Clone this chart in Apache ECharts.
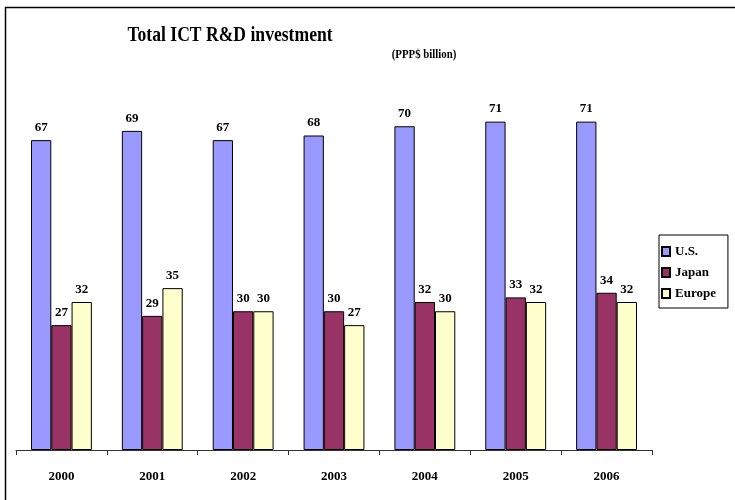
<!DOCTYPE html>
<html>
<head>
<meta charset="utf-8">
<script src="https://cdn.jsdelivr.net/npm/echarts@6/dist/echarts.min.js"></script>
<style>
  html, body { margin: 0; padding: 0; background: #fff; }
  #chart { width: 735px; height: 500px; }
</style>
</head>
<body>
<div id="chart"></div>
<script>
// data
const years = ['2000', '2001', '2002', '2003', '2004', '2005', '2006']
const usValues = [67, 69, 67, 68, 70, 71, 71]
const japanValues = [27, 29, 30, 30, 32, 33, 34]
const europeValues = [32, 35, 30, 27, 30, 32, 32]

const serif = '"Liberation Serif", "Times New Roman", serif'

const labelStyle = {
  show: true,
  position: 'top',
  distance: 6,
  color: '#000',
  fontFamily: serif,
  fontWeight: 'bold',
  fontSize: 13
}

const makeSeries = (name, data, color) => ({
  name: name,
  type: 'bar',
  data: data,
  barGap: '0%',
  barCategoryGap: '33%',
  itemStyle: {
    color: color,
    borderColor: '#000',
    borderWidth: 1
  },
  label: labelStyle
})

const chart = echarts.init(document.getElementById('chart'))

const option = {
  animation: false,
  legend: {
    orient: 'vertical',
    left: 659,
    top: 235,
    icon: 'rect',
    itemWidth: 8,
    itemHeight: 9,
    itemGap: 8,
    padding: [10, 12, 8, 2],
    borderColor: '#000',
    borderWidth: 1,
    textStyle: {
      fontFamily: serif,
      fontWeight: 'bold',
      fontSize: 13,
      color: '#000'
    },
    data: ['U.S.', 'Japan', 'Europe']
  },
  graphic: [
    {
      type: 'rect',
      shape: { x: 5.5, y: 7.5, width: 740, height: 510 },
      style: { fill: null, stroke: '#000', lineWidth: 1.5 },
      silent: true
    },
    {
      // title, slightly condensed like the original
      type: 'text',
      x: 230,
      y: 35,
      scaleX: 0.8,
      style: {
        text: 'Total ICT R&D investment',
        font: 'bold 22px ' + serif,
        fill: '#000',
        align: 'center',
        verticalAlign: 'middle'
      }
    },
    {
      type: 'text',
      x: 424,
      y: 55,
      scaleX: 0.9,
      style: {
        text: '(PPP$ billion)',
        font: 'bold 12px ' + serif,
        fill: '#000',
        align: 'center',
        verticalAlign: 'middle'
      }
    }
  ],
  grid: {
    left: 16,
    top: 80,
    width: 636,
    height: 370
  },
  xAxis: {
    type: 'category',
    data: years,
    axisLine: { lineStyle: { color: '#333', width: 1 } },
    axisTick: { show: true, length: 5, lineStyle: { color: '#333' } },
    axisLabel: {
      color: '#000',
      fontFamily: serif,
      fontWeight: 'bold',
      fontSize: 13,
      margin: 20
    }
  },
  yAxis: {
    type: 'value',
    min: 0,
    max: 80,
    show: false,
    splitLine: { show: false }
  },
  series: [
    makeSeries('U.S.', usValues, '#9999FF'),
    makeSeries('Japan', japanValues, '#993366'),
    makeSeries('Europe', europeValues, '#FFFFCC')
  ]
}

chart.setOption(option)
</script>
</body>
</html>
